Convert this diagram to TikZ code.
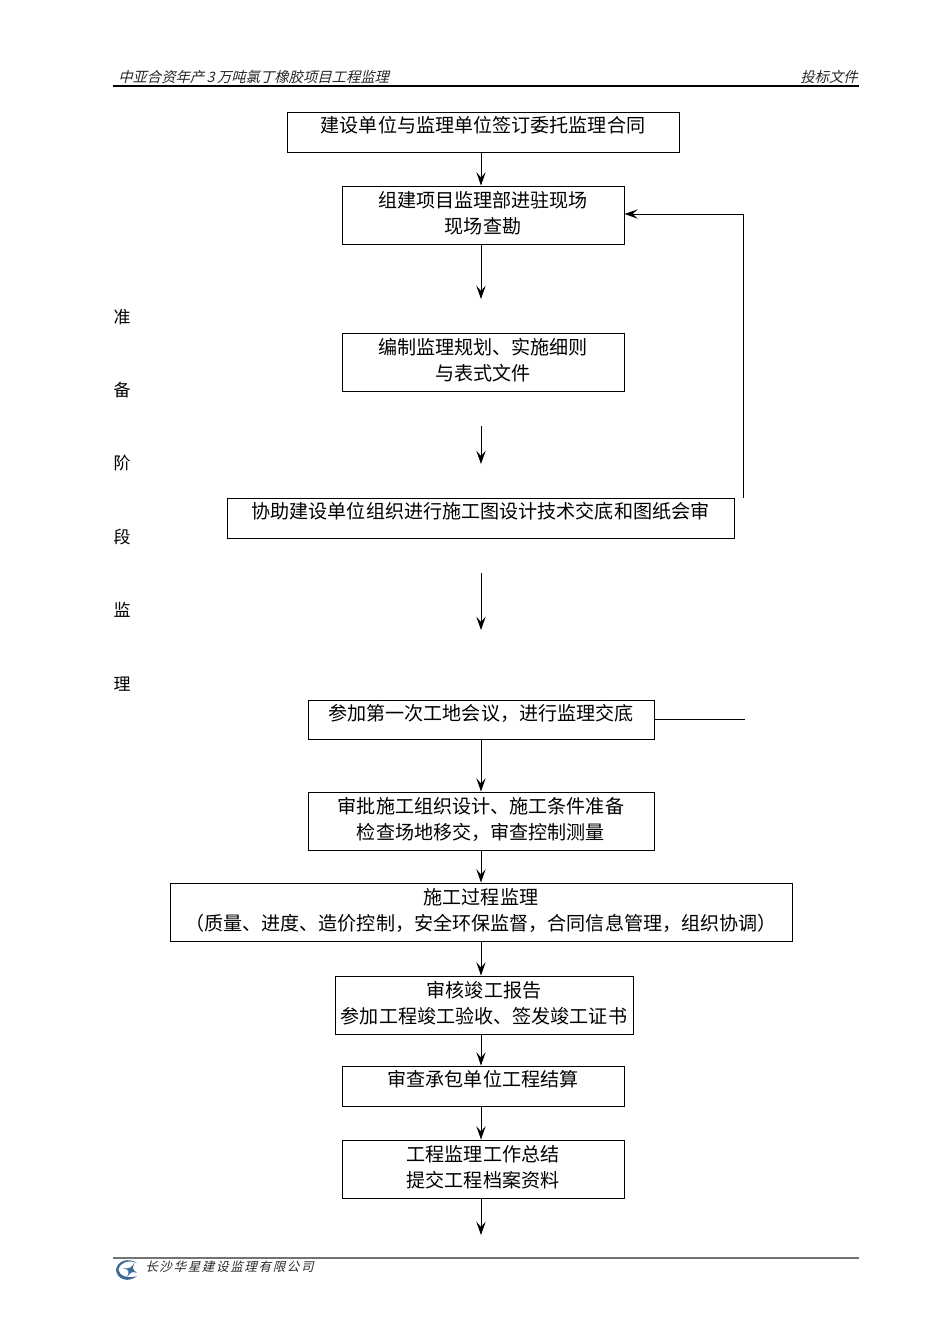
\documentclass[tikz,border=0pt]{standalone}
\usepackage{fontspec}
\usepackage{amsmath}
\setmainfont{Noto Sans CJK SC}
\newfontfamily\slantcjk{Noto Sans CJK SC}[FakeSlant=0.25]
\usetikzlibrary{arrows.meta, positioning}
\definecolor{logoblue}{RGB}{60,105,150}
\tikzstyle{arrow} = [line width=0.6pt,-{Stealth[length=8pt,width=5.6pt,inset=3.2pt]}]
\tikzstyle{plainline} = [line width=0.6pt]
\tikzstyle{flowbox} = [draw, line width=0.6pt, inner sep=0pt, align=center,
  font=\fontsize{11.45}{15.6}\selectfont]
\tikzstyle{onebox} = [flowbox, text height=8.5pt, text depth=7.7pt]
\tikzstyle{twobox} = [flowbox, minimum height=34.8pt, text height=24.1pt, text depth=1.9pt]
\tikzstyle{sidelabel} = [inner sep=0pt, font=\fontsize{10.2}{12}\selectfont]
\tikzstyle{headlabel} = [inner sep=0pt, font=\fontsize{8.6}{10}\slantcjk, text=black!85]

\begin{document}
\begin{tikzpicture}[x=0.6pt,y=-0.6pt]
  \useasboundingbox (0,0) rectangle (950,1344);
  \coordinate (axis) at (481,0);

  % header and footer
  \node[headlabel, anchor=west] (headleft) at (118,77) {中亚合资年产\,3\,万吨氯丁橡胶项目工程监理};
  \node[headlabel, anchor=east] (headright) at (858,77) {投标文件};
  \coordinate (headl) at (113,86);
  \coordinate (headr) at (859,86);
  \draw[line width=0.8pt] (headl) -- (headr);
  \coordinate (footl) at (113,1258);
  \coordinate (footr) at (859,1258);
  \draw[line width=0.7pt, black!55] (footl) -- (footr);
  \node[inner sep=0pt, anchor=west, font=\fontsize{7.5}{10}\slantcjk, text=black!85] (company) at (145,1267)
    {长\hspace{1pt}沙\hspace{1pt}华\hspace{1pt}星\hspace{1pt}建\hspace{1pt}设\hspace{1pt}监\hspace{1pt}理\hspace{1pt}有\hspace{1pt}限\hspace{1pt}公\hspace{1pt}司};
  % logo
  \fill[logoblue] (137,1263) .. controls (128,1257) and (117,1261) .. (116,1270)
    .. controls (117,1280) and (129,1283) .. (137,1276)
    .. controls (129,1279) and (119,1276) .. (118.5,1270)
    .. controls (119,1263) and (129,1259) .. (137,1263);
  \fill[logoblue] (135,1262) .. controls (131,1268) and (130,1269) .. (123,1268)
    .. controls (129,1270) and (130,1271) .. (127,1277)
    .. controls (131,1272) and (132,1271) .. (137,1273)
    .. controls (132,1269) and (132,1268) .. (135,1262);

  % side text
  \node[sidelabel] (zhun) at (122,317) {准};
  \node[sidelabel] (bei) at (122,390) {备};
  \node[sidelabel] (jie) at (122,463) {阶};
  \node[sidelabel] (duan) at (122,537) {段};
  \node[sidelabel] (jian) at (122,610) {监};
  \node[sidelabel] (li) at (122,684) {理};

  % flow boxes
  \node[onebox, minimum width=235.2pt, minimum height=24pt] (contract) at (483,132) {建设单位与监理单位签订委托监理合同};
  \node[twobox, minimum width=169.2pt] (setup) at (483,215) {组建项目监理部进驻现场\\现场查勘};
  \node[twobox, minimum width=169.2pt] (plan) at (483,362) {编制监理规划、实施细则\\与表式文件};
  \node[onebox, minimum width=304.2pt, minimum height=24pt] (review) at (480.5,518) {协助建设单位组织进行施工图设计技术交底和图纸会审};
  \node[onebox, minimum width=207.6pt, minimum height=23.4pt] (meeting) at (481,719.5) {参加第一次工地会议，进行监理交底};
  \node[twobox, minimum width=207.6pt] (approve) at (481,821) {审批施工组织设计、施工条件准备\\检查场地移交，审查控制测量};
  \node[twobox, minimum width=373.2pt] (process) at (481,912) {施工过程监理\\（质量、进度、造价控制，安全环保监督，合同信息管理，组织协调）};
  \node[twobox, minimum width=178.8pt] (accept) at (484,1005) {审核竣工报告\\参加工程竣工验收、签发竣工证书};
  \node[onebox, minimum width=169.2pt, minimum height=24pt] (settle) at (483,1086) {审查承包单位工程结算};
  \node[twobox, minimum width=169.2pt] (summary) at (483,1169) {工程监理工作总结\\提交工程档案资料};

  % free ends
  \coordinate (endb) at (481,299);
  \coordinate (startc) at (481,426);
  \coordinate (endc) at (481,464);
  \coordinate (startd) at (481,573);
  \coordinate (endd) at (481,630);
  \coordinate (endj) at (481,1235);
  \coordinate (stub) at (745,719);
  \coordinate (backup) at (743,214);

  % connectors
  \draw[arrow] (contract.south -| axis) -- (setup.north -| axis);
  \draw[arrow] (setup.south -| axis) -- (endb);
  \draw[arrow] (startc) -- (endc);
  \draw[arrow] (startd) -- (endd);
  \draw[arrow] (meeting.south -| axis) -- (approve.north -| axis);
  \draw[arrow] (approve.south -| axis) -- (process.north -| axis);
  \draw[arrow] (process.south -| axis) -- (accept.north -| axis);
  \draw[arrow] (accept.south -| axis) -- (settle.north -| axis);
  \draw[arrow] (settle.south -| axis) -- (summary.north -| axis);
  \draw[arrow] (summary.south -| axis) -- (endj);
  \draw[plainline] (meeting.east |- stub) -- (stub);
  \draw[arrow] (review.north -| backup) -- (backup) -- (setup.east |- backup);
\end{tikzpicture}
\end{document}
